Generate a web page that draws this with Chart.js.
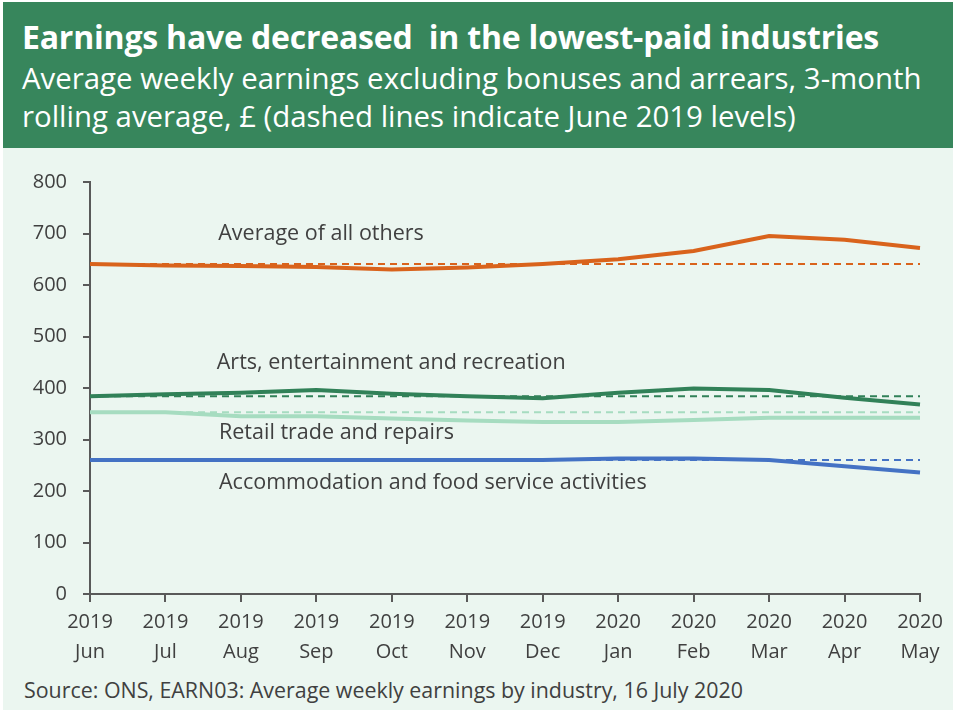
<!DOCTYPE html>
<html>
<head>
<meta charset="utf-8">
<script src="https://cdn.jsdelivr.net/npm/chart.js@4.4.1/dist/chart.umd.min.js"></script>
<style>
  html, body { margin: 0; padding: 0; background: #ffffff; }
  #frame {
    position: absolute; left: 3px; top: 2px; width: 950px; height: 708px;
    background: #ebf6f0; overflow: hidden;
    font-family: "Open Sans", "Noto Sans", sans-serif;
  }
  #header {
    position: absolute; left: 0; top: 0; width: 950px; height: 146px;
    background: #37865c; color: #ffffff;
  }
  #title {
    position: absolute; left: 19px; top: 13px; font-size: 32px; line-height: 44px;
    font-weight: 700; white-space: pre; letter-spacing: -0.2px;
  }
  #subtitle {
    position: absolute; left: 19px; top: 57px; font-size: 29.4px; line-height: 38px;
    white-space: pre;
  }
  #chartBox { position: absolute; left: -3px; top: 148px; width: 953px; height: 522px; }
  #source {
    position: absolute; left: 21px; top: 674px; font-size: 21.4px; line-height: 28px;
    color: #404040; white-space: pre;
  }
</style>
</head>
<body>
<div id="frame">
  <div id="header">
    <div id="title">Earnings have decreased  in the lowest-paid industries</div>
    <div id="subtitle">Average weekly earnings excluding bonuses and arrears, 3-month
rolling average, £ (dashed lines indicate June 2019 levels)</div>
  </div>
  <div id="chartBox"><canvas id="chart" width="953" height="522"></canvas></div>
  <div id="source">Source: ONS, EARN03: Average weekly earnings by industry, 16 July 2020</div>
</div>
<script>
// Months along the x axis, two-line labels (year over month).
const years = ["2019", "2019", "2019", "2019", "2019", "2019", "2019", "2020", "2020", "2020", "2020", "2020"];
const months = ["Jun", "Jul", "Aug", "Sep", "Oct", "Nov", "Dec", "Jan", "Feb", "Mar", "Apr", "May"];

// Average weekly earnings, £.
const allOthers = [641, 638, 637, 635, 630, 634, 641, 650, 666, 695, 688, 672];
const arts = [384, 388, 391, 396, 389, 384, 380, 391, 399, 396, 381, 368];
const retail = [353, 353, 345, 345, 341, 337, 334, 334, 338, 342, 342, 342];
const accommodation = [260, 260, 260, 260, 260, 260, 260, 263, 263, 260, 248, 236];

// Series names, drawn as text beside the lines (x = month index, y = £).
const seriesNames = [
  "Average of all others",
  "Arts, entertainment and recreation",
  "Retail trade and repairs",
  "Accommodation and food service activities",
];
const nameX = [1.7, 1.68, 1.71, 1.71];
const nameY = [700, 449, 312, 215];

const yTicks = [0, 100, 200, 300, 400, 500, 600, 700, 800];

const COLORS = {
  orange: "#d9631c",
  green: "#318158",
  mint: "#a6dcc0",
  blue: "#4472c4",
  axis: "#595959",
  text: "#404040",
};

const FONT = "'Open Sans', 'Noto Sans', sans-serif";

const labels = years.map((y, i) => [y, months[i]]);

// June 2019 level, held flat across the whole period.
const juneLevel = (series) => series.map(() => series[0]);

function solid(data, color) {
  return {
    data, borderColor: color, borderWidth: 4, pointRadius: 0,
    tension: 0, fill: false, order: 2,
  };
}

function dashed(data, color) {
  return {
    data: juneLevel(data), borderColor: color, borderWidth: 2, borderDash: [7, 5],
    pointRadius: 0, fill: false, order: 1,
  };
}

// Writes the series names next to their lines, placed through the scales.
const seriesNamePlugin = {
  id: "seriesNames",
  afterDatasetsDraw(chart) {
    const { ctx, scales } = chart;
    ctx.save();
    ctx.font = `21.5px ${FONT}`;
    ctx.fillStyle = COLORS.text;
    ctx.textAlign = "left";
    ctx.textBaseline = "middle";
    seriesNames.forEach((name, i) => {
      ctx.fillText(name, scales.x.getPixelForValue(nameX[i]), scales.y.getPixelForValue(nameY[i]));
    });
    ctx.restore();
  },
};

new Chart(document.getElementById("chart").getContext("2d"), {
  type: "line",
  data: {
    labels,
    datasets: [
      solid(allOthers, COLORS.orange),
      solid(arts, COLORS.green),
      solid(retail, COLORS.mint),
      solid(accommodation, COLORS.blue),
      dashed(allOthers, COLORS.orange),
      dashed(arts, COLORS.green),
      dashed(retail, COLORS.mint),
      dashed(accommodation, COLORS.blue),
    ],
  },
  options: {
    responsive: false,
    animation: false,
    layout: { padding: { top: 32, right: 33, left: 0, bottom: 0 } },
    plugins: { legend: { display: false }, tooltip: { enabled: false } },
    scales: {
      x: {
        type: "category",
        offset: false,
        grid: { display: true, drawOnChartArea: false, drawTicks: true, tickLength: 8, color: COLORS.axis, lineWidth: 2 },
        border: { display: true, color: COLORS.axis, width: 2 },
        ticks: {
          color: COLORS.text, font: { family: FONT, size: 20, lineHeight: 1.5 },
          padding: 5, maxRotation: 0, autoSkip: false,
        },
        afterFit: (s) => { s.height = 78; },
      },
      y: {
        min: 0, max: 800,
        afterBuildTicks: (s) => { s.ticks = yTicks.map((v) => ({ value: v })); },
        grid: { display: true, drawOnChartArea: false, drawTicks: true, tickLength: 7, color: COLORS.axis, lineWidth: 2 },
        border: { display: true, color: COLORS.axis, width: 2 },
        ticks: {
          color: COLORS.text, font: { family: FONT, size: 20 },
          padding: 16,
        },
        afterFit: (s) => { s.width = 90; },
      },
    },
  },
  plugins: [seriesNamePlugin],
});
</script>
</body>
</html>
